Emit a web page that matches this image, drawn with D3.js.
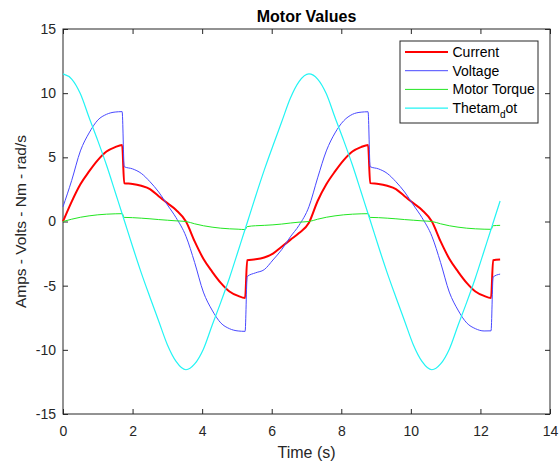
<!DOCTYPE html>
<html>
<head>
<meta charset="utf-8">
<script src="https://cdn.jsdelivr.net/npm/d3@7"></script>
<style>
  body { margin: 0; background: #fff; }
  text { font-family: "Liberation Sans", Arial, sans-serif; fill: #262626; }
</style>
</head>
<body>
<div id="chart"></div>
<script>
// sample times (s), with extra points at the jumps
var time = [
  0, 0.25, 0.5, 0.75, 1.0, 1.25, 1.5, 1.70, 1.76, 2.0, 2.25, 2.5, 2.75, 3.0, 3.25,
  3.535, 3.785, 4.035, 4.285, 4.535, 4.785, 5.035, 5.235, 5.295, 5.535, 5.785, 6.035, 6.285, 6.535, 6.785,
  7.07, 7.32, 7.57, 7.82, 8.07, 8.32, 8.57, 8.77, 8.83, 9.07, 9.32, 9.57, 9.82, 10.07, 10.32,
  10.605, 10.855, 11.105, 11.355, 11.605, 11.855, 12.105, 12.305, 12.365, 12.566
];

var current = [
  0, 1.55, 2.9, 3.9, 4.78, 5.45, 5.8, 5.96, 2.98, 2.93, 2.78, 2.53, 1.97, 1.43, 0.9,
  0, -1.55, -2.9, -3.9, -4.78, -5.45, -5.8, -5.96, -3.02, -2.95, -2.8, -2.5, -1.97, -1.43, -0.9,
  -0.1, 1.6, 2.9, 3.9, 4.78, 5.45, 5.8, 5.97, 2.99, 2.93, 2.78, 2.53, 1.97, 1.43, 0.9,
  0, -1.55, -2.9, -3.9, -4.78, -5.45, -5.8, -5.96, -3.02, -2.96
];

var voltage = [
  1.15, 3.2, 5.5, 6.9, 7.9, 8.35, 8.53, 8.56, 4.27, 4.1, 3.75, 3.1, 2.3, 1.3, 0.3,
  -1.15, -3.2, -5.5, -6.9, -7.9, -8.35, -8.53, -8.56, -4.29, -4.0, -3.75, -3.0, -2.2, -1.2, -0.3,
  1.15, 3.4, 5.5, 6.9, 7.85, 8.35, 8.52, 8.55, 4.27, 4.1, 3.75, 3.1, 2.3, 1.3, 0.3,
  -1.15, -3.2, -5.5, -6.9, -7.9, -8.35, -8.53, -8.52, -4.33, -4.1
];

var torque = [
  0, 0.18, 0.33, 0.44, 0.52, 0.57, 0.6, 0.61, 0.32, 0.3, 0.26, 0.21, 0.15, 0.1, 0.05,
  0, -0.18, -0.33, -0.44, -0.52, -0.57, -0.6, -0.63, -0.4, -0.33, -0.3, -0.26, -0.2, -0.12, -0.05,
  0, 0.18, 0.33, 0.44, 0.52, 0.57, 0.6, 0.61, 0.32, 0.3, 0.26, 0.21, 0.15, 0.1, 0.05,
  0, -0.18, -0.33, -0.44, -0.52, -0.57, -0.6, -0.61, -0.33, -0.3
];

var thetadot = [
  11.5, 11.1, 9.95, 8.1, 6.3, 4.4, 2.3, 0.6, 0.1, -1.95, -4.0, -5.9, -7.75, -9.6, -10.9,
  -11.55, -11.1, -9.95, -8.1, -6.3, -4.4, -2.3, -0.6, -0.1, 1.95, 4.0, 5.9, 7.75, 9.6, 10.9,
  11.5, 11.1, 9.95, 8.1, 6.3, 4.4, 2.3, 0.6, 0.1, -1.95, -4.0, -5.9, -7.75, -9.6, -10.9,
  -11.55, -11.1, -9.95, -8.1, -6.3, -4.4, -2.3, -0.6, -0.1, 1.6
];

var seriesNames = ["Current", "Voltage", "Motor Torque", "Thetam"];
var xTicks = [0, 2, 4, 6, 8, 10, 12, 14];
var yTicks = [-15, -10, -5, 0, 5, 10, 15];

// margins for the axes box
var margin = {top: 29, right: 10, bottom: 49, left: 63},
    width = 560 - margin.left - margin.right,
    height = 463 - margin.top - margin.bottom;

var root = d3.select("#chart")
  .append("svg")
    .attr("width", 560)
    .attr("height", 463);

var svg = root.append("g")
    .attr("transform", "translate(" + margin.left + "," + margin.top + ")");

var x = d3.scaleLinear().domain([0, 14]).range([0, width]);
var y = d3.scaleLinear().domain([-15, 15]).range([height, 0]);

// plain hyphen for negatives, like matlab
var plain = function(d) { return String(d); };

// axes, ticks pointing inwards on all four sides
svg.append("g")
    .attr("class", "axis")
    .attr("transform", "translate(0," + height + ")")
    .call(d3.axisBottom(x).tickValues(xTicks).tickFormat(plain).tickSizeInner(-5).tickSizeOuter(0).tickPadding(12));
svg.append("g")
    .attr("class", "axis")
    .call(d3.axisTop(x).tickValues(xTicks).tickSizeInner(-5).tickSizeOuter(0).tickFormat(""));
svg.append("g")
    .attr("class", "axis")
    .call(d3.axisLeft(y).tickValues(yTicks).tickFormat(plain).tickSizeInner(-5).tickSizeOuter(0).tickPadding(7));
svg.append("g")
    .attr("class", "axis")
    .attr("transform", "translate(" + width + ",0)")
    .call(d3.axisRight(y).tickValues(yTicks).tickSizeInner(-5).tickSizeOuter(0).tickFormat(""));

svg.selectAll(".axis .domain").remove();
svg.selectAll(".axis line").attr("stroke", "#262626");
svg.selectAll(".axis text")
    .style("font-size", "14px")
    .attr("fill", "#262626");

svg.append("rect")
    .attr("x", 0)
    .attr("y", 0)
    .attr("width", width)
    .attr("height", height)
    .attr("fill", "none")
    .attr("stroke", "#262626")
    .attr("stroke-width", 1);

// the four lines
var series = [
  {name: seriesNames[0], values: current, color: "#ff0000", w: 2},
  {name: seriesNames[1], values: voltage, color: "#4848ff", w: 1},
  {name: seriesNames[2], values: torque, color: "#22e622", w: 1},
  {name: seriesNames[3], values: thetadot, color: "#22f4f4", w: 1.2}
];

var line = d3.line()
    .x(function(d) { return x(d.t); })
    .y(function(d) { return y(d.v); })
    .curve(d3.curveMonotoneX);

series.forEach(function(s) {
  var pts = time.map(function(t, i) { return {t: t, v: s.values[i]}; });
  svg.append("path")
    .datum(pts)
    .attr("fill", "none")
    .attr("stroke", s.color)
    .attr("stroke-width", s.w)
    .attr("stroke-linejoin", "round")
    .attr("d", line);
});

// title and axis labels
root.append("text")
    .attr("x", margin.left + width / 2)
    .attr("y", 22)
    .attr("text-anchor", "middle")
    .style("font-size", "16px")
    .style("font-weight", "bold")
    .style("fill", "#000")
    .text("Motor Values");

root.append("text")
    .attr("x", margin.left + width / 2)
    .attr("y", 458)
    .attr("text-anchor", "middle")
    .style("font-size", "16px")
    .text("Time (s)");

root.append("text")
    .attr("transform", "translate(26," + (margin.top + height / 2) + ") rotate(-90)")
    .attr("text-anchor", "middle")
    .style("font-size", "15.5px")
    .text("Amps - Volts - Nm - rad/s");

// legend
var legend = root.append("g")
    .attr("transform", "translate(400,41)");

legend.append("rect")
    .attr("width", 138)
    .attr("height", 82)
    .attr("fill", "#fff")
    .attr("stroke", "#262626")
    .attr("stroke-width", 1);

series.forEach(function(s, i) {
  var row = legend.append("g")
      .attr("transform", "translate(0," + (11 + i * 18.7) + ")");
  row.append("line")
      .attr("x1", 5)
      .attr("x2", 48)
      .attr("stroke", s.color)
      .attr("stroke-width", s.w);
  var label = row.append("text")
      .attr("x", 52.5)
      .attr("dy", "0.35em")
      .style("font-size", "14px")
      .style("fill", "#000")
      .text(s.name);
  // Thetam_dot: matlab turned the underscore into a subscript
  if (i === 3) {
    label.append("tspan").attr("dy", 5).style("font-size", "10px").text("d");
    label.append("tspan").attr("dy", -5).text("ot");
  }
});
</script>
</body>
</html>
